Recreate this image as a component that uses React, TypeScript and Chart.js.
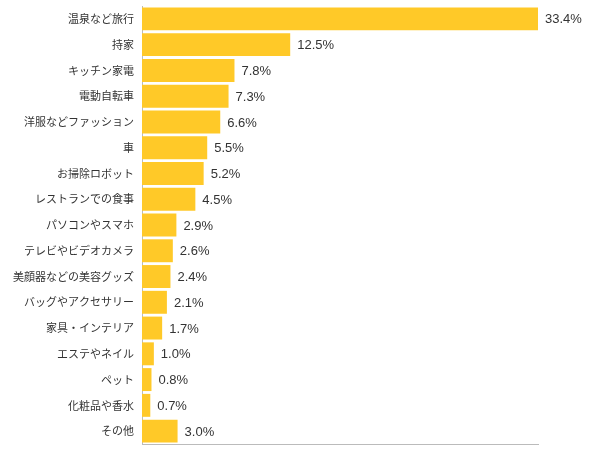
import React, { useEffect, useRef } from "react";
import { Chart, registerables } from "chart.js";

Chart.register(...registerables);

const categories: string[] = [
  "温泉など旅行",
  "持家",
  "キッチン家電",
  "電動自転車",
  "洋服などファッション",
  "車",
  "お掃除ロボット",
  "レストランでの食事",
  "パソコンやスマホ",
  "テレビやビデオカメラ",
  "美顔器などの美容グッズ",
  "バッグやアクセサリー",
  "家具・インテリア",
  "エステやネイル",
  "ペット",
  "化粧品や香水",
  "その他",
];

const values: number[] = [33.4, 12.5, 7.8, 7.3, 6.6, 5.5, 5.2, 4.5, 2.9, 2.6, 2.4, 2.1, 1.7, 1.0, 0.8, 0.7, 3.0];

const FONT = "'Noto Sans CJK JP', 'Noto Sans', sans-serif";
const NUM_FONT = "'Liberation Sans', Arial, sans-serif";

const valueLabels = {
  id: "valueLabels",
  afterDatasetsDraw(chart: any) {
    const ctx = chart.ctx;
    const meta = chart.getDatasetMeta(0);
    ctx.save();
    ctx.font = `13px ${NUM_FONT}`;
    ctx.fillStyle = "#333333";
    ctx.textAlign = "left";
    ctx.textBaseline = "middle";
    meta.data.forEach((bar: any, i: number) => {
      ctx.fillText(values[i].toFixed(1) + "%", bar.x + 7, bar.y + 1);
    });
    ctx.restore();
  },
};

export default function App() {
  const ref = useRef<HTMLCanvasElement | null>(null);
  useEffect(() => {
    if (!ref.current) return;
    const chart = new Chart(ref.current, {
      type: "bar",
      data: {
        labels: categories,
        datasets: [
          {
            data: values,
            backgroundColor: "#FFC928",
            borderWidth: 0,
            categoryPercentage: 0.89,
            barPercentage: 1,
          },
        ],
      },
      options: {
        indexAxis: "y",
        animation: false,
        responsive: true,
        maintainAspectRatio: false,
        layout: { padding: { left: 0, right: 62, top: 6, bottom: 12 } },
        plugins: {
          legend: { display: false },
          tooltip: { enabled: false },
        },
        scales: {
          x: {
            min: 0,
            max: 33.4,
            ticks: { display: false },
            grid: { display: false, drawTicks: false },
            border: { display: true, color: "#BBBBBB", width: 1 },
            afterFit: (s: any) => {
              s.height = 0;
              s.paddingLeft = 0;
              s.paddingRight = 0;
            },
          },
          y: {
            ticks: {
              color: "#333333",
              font: { family: FONT, size: 11 },
              padding: 8,
              autoSkip: false,
            },
            grid: { display: false, drawTicks: false },
            border: { display: true, color: "#BBBBBB", width: 1 },
            afterFit: (s: any) => {
              s.width = 142;
              s.paddingTop = 0;
              s.paddingBottom = 0;
            },
          },
        },
      },
      plugins: [valueLabels],
    });
    return () => chart.destroy();
  }, []);
  return (
    <div style={{ position: "absolute", left: 0, top: 0, width: 600, height: 456, background: "#fff" }}>
      <canvas ref={ref} />
    </div>
  );
}
